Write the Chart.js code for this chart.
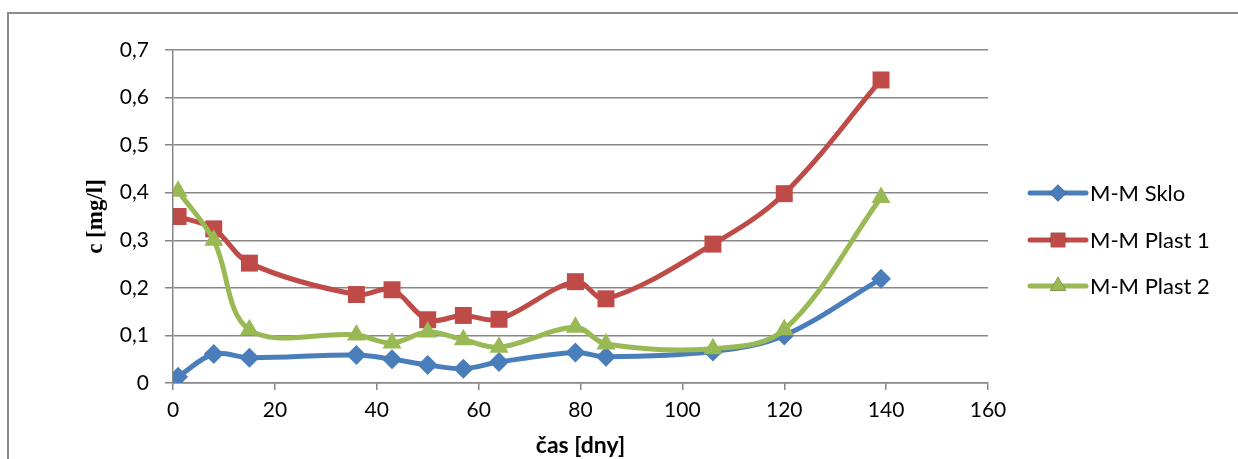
<!DOCTYPE html>
<html>
<head>
<meta charset="utf-8">
<script src="https://cdn.jsdelivr.net/npm/chart.js@4"></script>
<style>
  html, body { margin: 0; padding: 0; background: #fff; }
  #wrap { position: relative; width: 1238px; height: 459px; overflow: hidden; }
  #frame { position: absolute; left: 7px; top: 12px; right: -10px; bottom: -10px;
           border-left: 2px solid #8c8c8c; border-top: 2px solid #8c8c8c; }
  canvas { position: absolute; left: 0; top: 0; }
</style>
</head>
<body>
<div id="wrap">
  <div id="frame"></div>
  <canvas id="chart" width="1238" height="459"></canvas>
</div>
<script>
// dny
const days = [1, 8, 15, 36, 43, 50, 57, 64, 79, 85, 106, 120, 139];
// c [mg/l]
const sklo   = [0.013, 0.061, 0.053, 0.059, 0.050, 0.038, 0.030, 0.044, 0.064, 0.055, 0.066, 0.100, 0.219];
const plast1 = [0.350, 0.324, 0.252, 0.186, 0.196, 0.133, 0.142, 0.134, 0.213, 0.177, 0.292, 0.398, 0.637];
const plast2 = [0.403, 0.300, 0.112, 0.101, 0.084, 0.107, 0.091, 0.075, 0.117, 0.082, 0.072, 0.112, 0.390];
const seriesNames = ['M-M Sklo', 'M-M Plast 1', 'M-M Plast 2'];
const yTickLabels = ['0', '0,1', '0,2', '0,3', '0,4', '0,5', '0,6', '0,7'];
const xTickValues = [0, 20, 40, 60, 80, 100, 120, 140, 160];

const colors = ['#4a7ebb', '#be4b48', '#98b954'];
const styles = ['rectRot', 'rect', 'triangle'];
const radii = [10, 12, 11];

function pts(ys) {
  return ys.map(function (v, i) { return { x: days[i], y: v }; });
}

const font = 'Lato, "Open Sans", sans-serif';
const gridColor = '#878787';

// legend vpravo: čára + značka jako v Excelu
const sideLegend = {
  id: 'sideLegend',
  afterDraw(chart) {
    const c = chart.ctx;
    const x0 = 1030, x1 = 1086;
    const rows = [193, 240, 286];
    c.save();
    chart.data.datasets.forEach(function (ds, i) {
      const y = rows[i];
      c.strokeStyle = ds.borderColor;
      c.lineWidth = 5;
      c.lineCap = 'round';
      c.beginPath(); c.moveTo(x0, y); c.lineTo(x1, y); c.stroke();
      Chart.helpers.drawPoint(c, { pointStyle: ds.pointStyle, radius: ds.pointRadius * 0.85, borderWidth: 0 }, (x0 + x1) / 2, y);
      c.fillStyle = ds.borderColor;
      c.fill();
      c.fillStyle = '#000';
      c.font = '22px ' + font;
      c.textBaseline = 'middle';
      c.fillText(ds.label, x1 + 4, y + 1);
    });
    c.restore();
  }
};

new Chart(document.getElementById('chart').getContext('2d'), {
  type: 'line',
  data: {
    datasets: [sklo, plast1, plast2].map(function (ys, i) {
      return {
        label: seriesNames[i],
        data: pts(ys),
        order: 2 - i,
        borderColor: colors[i],
        backgroundColor: colors[i],
        borderWidth: 5,
        tension: 0.35,
        pointStyle: styles[i],
        pointRadius: radii[i],
        pointBorderWidth: 0,
        pointBackgroundColor: colors[i]
      };
    })
  },
  options: {
    responsive: false,
    animation: false,
    layout: { padding: { top: 50, right: 250, left: 80, bottom: 0 } },
    plugins: { legend: { display: false }, tooltip: { enabled: false } },
    scales: {
      x: {
        type: 'linear',
        min: 0, max: 160,
        afterBuildTicks(s) { s.ticks = xTickValues.map(function (v) { return { value: v }; }); },
        afterFit(s) { s.height = 76; },
        grid: { drawOnChartArea: false, color: gridColor, tickLength: 7, lineWidth: 1.5 },
        border: { color: gridColor, width: 1.5 },
        ticks: { color: '#000', font: { family: font, size: 21 }, padding: 8, maxRotation: 0 },
        title: { display: true, text: 'čas [dny]', color: '#000', font: { family: font, size: 23, weight: 'bold' }, padding: { top: 0, bottom: 0 } }
      },
      y: {
        min: 0, max: 0.7,
        afterBuildTicks(s) { s.ticks = yTickLabels.map(function (t, i) { return { value: i / 10 }; }); },
        afterFit(s) { s.width = 93; },
        grid: { color: gridColor, tickLength: 8, lineWidth: 1.5 },
        border: { color: gridColor, width: 1.5 },
        ticks: {
          color: '#000', font: { family: font, size: 21 }, padding: 16,
          callback: function (v, i) { return yTickLabels[i]; }
        },
        title: { display: true, text: 'c [mg/l]', color: '#000', font: { family: '"Liberation Serif", serif', size: 23, weight: 'bold' }, padding: { top: 2, bottom: 0 } }
      }
    }
  },
  plugins: [sideLegend]
});
</script>
</body>
</html>
